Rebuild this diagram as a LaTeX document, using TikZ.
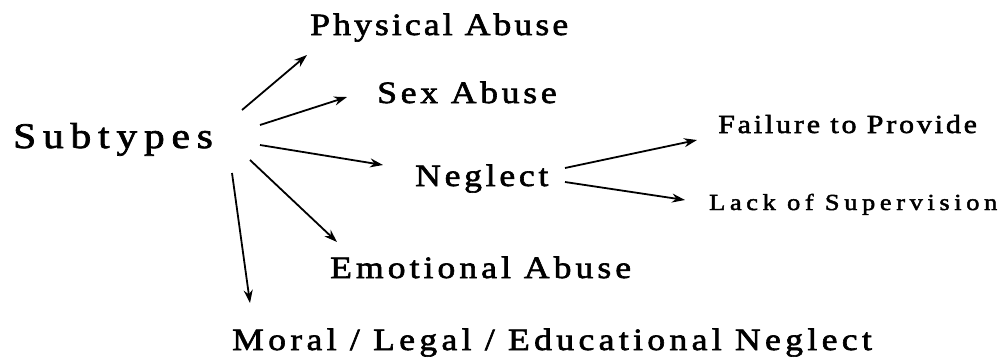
\documentclass[tikz,border=0pt]{standalone}
\usepackage{fontspec}
\setmainfont{Liberation Serif}[FakeStretch=1.15,FakeBold=2]
\usepackage{tikz}
\usetikzlibrary{arrows.meta}
\tikzset{
    lbl/.style={
           inner sep=0pt,
           anchor=base west,
           font=\fontsize{31}{36}\selectfont\addfontfeature{LetterSpace=12},
           },
}
\tikzset{
    arr/.style={
           -{Stealth[length=13pt,width=9pt]},
           line width=1.8pt,
           },
}

\begin{document}
\begin{tikzpicture}[x=1pt,y=-1pt]
\useasboundingbox (0,0) rectangle (1004,360);
\node[lbl, font=\fontsize{36}{40}\selectfont\addfontfeature{LetterSpace=19}] (sub) at (13,148) {Subtypes};
\node[lbl, font=\fontsize{31}{36}\selectfont\addfontfeature{LetterSpace=10}] (phys) at (310,35) {Physical Abuse};
\node[lbl] (sex) at (377,103) {Sex Abuse};
\node[lbl] (negl) at (415,186) {Neglect};
\node[lbl, font=\fontsize{31}{36}\selectfont\addfontfeature{LetterSpace=13}] (emo) at (330,278) {Emotional Abuse};
\node[lbl, font=\fontsize{31}{36}\selectfont\addfontfeature{LetterSpace=14}] (moral) at (232,350) {Moral / Legal / Educational Neglect};
\node[lbl, font=\fontsize{26}{30}\selectfont\addfontfeature{LetterSpace=11}] (fail) at (718,133) {Failure to Provide};
\node[lbl, font=\fontsize{23}{28}\selectfont\addfontfeature{LetterSpace=20}] (lack) at (709,210) {Lack of Supervision};
\draw[arr] ([xshift=229pt,yshift=38pt]sub.base west) -- ([xshift=-3pt,yshift=-20pt]phys.base west);
\draw[arr] ([xshift=247pt,yshift=23pt]sub.base west) -- ([xshift=-30pt,yshift=6pt]sex.base west);
\draw[arr] ([xshift=247pt,yshift=3pt]sub.base west) -- ([xshift=-32pt,yshift=21pt]negl.base west);
\draw[arr] ([xshift=237pt,yshift=-12pt]sub.base west) -- ([xshift=7pt,yshift=36pt]emo.base west);
\draw[arr] ([xshift=219pt,yshift=-25pt]sub.base west) -- ([xshift=18pt,yshift=47pt]moral.base west);
\draw[arr] ([xshift=150pt,yshift=18pt]negl.base west) -- ([xshift=-21pt,yshift=-7pt]fail.base west);
\draw[arr] ([xshift=150pt,yshift=4pt]negl.base west) -- ([xshift=-24pt,yshift=10pt]lack.base west);
\end{tikzpicture}
\end{document}
